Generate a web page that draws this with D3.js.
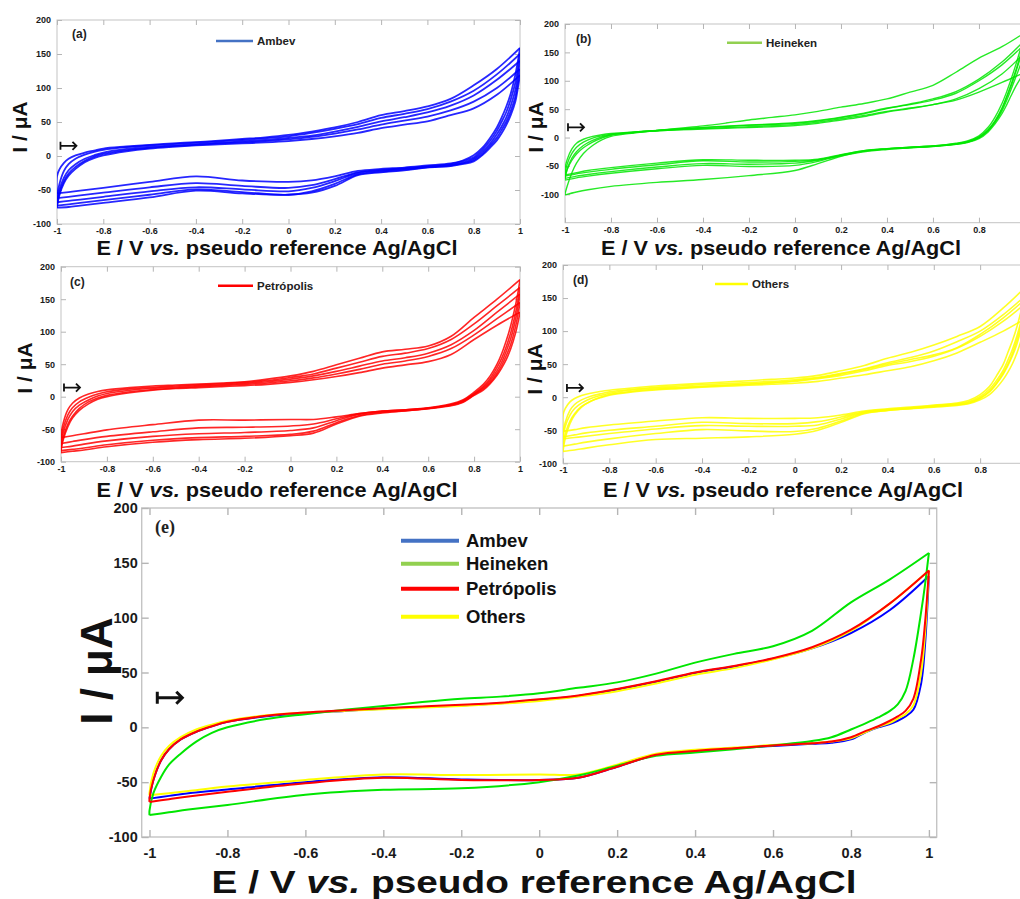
<!DOCTYPE html>
<html>
<head>
<meta charset="utf-8">
<script src="https://cdn.jsdelivr.net/npm/d3@7"></script>
<style>
  body { margin: 0; background: #fff; }
  svg { display: block; }
  text { font-weight: bold; }
</style>
</head>
<body>
<svg id="chart" width="1020" height="899"></svg>
<script>
// potential grid of the forward (anodic) and reverse (cathodic) sweeps, V
const fwdE = [-1, -0.99, -0.97, -0.95, -0.92, -0.88, -0.84, -0.8, -0.7, -0.6, -0.5, -0.4, -0.3, -0.2, -0.1, 0, 0.1, 0.2, 0.3, 0.4, 0.5, 0.6, 0.7, 0.8, 0.9, 1];
const revE = [1, 0.99, 0.98, 0.96, 0.94, 0.92, 0.9, 0.87, 0.84, 0.8, 0.75, 0.7, 0.6, 0.5, 0.4, 0.3, 0.2, 0.1, 0, -0.2, -0.4, -0.6, -0.8, -0.9, -0.95, -1];

const xTicks = [-1, -0.8, -0.6, -0.4, -0.2, 0, 0.2, 0.4, 0.6, 0.8, 1];
const yTicks = [-100, -50, 0, 50, 100, 150, 200];
const brands = ["Ambev", "Heineken", "Petrópolis", "Others"];

// mean voltammograms (panel e), current in µA
const meanAmbevFwd = [-65, -48, -30, -20, -11, -4, 1, 5, 10, 13, 15, 17, 18.5, 20, 22, 25, 28.5, 34.5, 41.5, 49.5, 55.5, 62.5, 72, 86, 107, 138];
const meanAmbevRev = [138, 75, 40, 16, 10, 6, 3, 0, -4, -11, -14, -15, -17, -19, -21.5, -25, -36, -46, -48, -47.5, -45.5, -50, -56.6, -60, -62.5, -65];
const meanHeinekenFwd = [-76, -60, -45, -34, -24, -13, -5, 0, 7.5, 12, 16, 19.5, 23, 26, 28, 31, 36, 41, 49, 59, 67, 74, 88, 114, 135, 159];
const meanHeinekenRev = [159, 130, 105, 62, 33, 21, 15, 9, 4, -2, -9, -12.5, -16.5, -20, -23, -26, -35, -44, -50, -55.6, -57, -61.5, -70.8, -75, -77.5, -80];
const meanPetropolisFwd = [-65, -48, -30, -20, -11, -4, 1, 5, 10.5, 13.5, 15.5, 17.5, 19, 20.5, 22.5, 25.5, 29, 35, 42, 50, 56, 63, 73, 89, 113, 143];
const meanPetropolisRev = [143, 95, 62, 26, 15, 10, 6, 1, -3, -9, -13, -14.5, -16.5, -19, -21.5, -25, -36, -46, -48, -48, -46, -51, -58.7, -63, -65.5, -68];
const meanOthersFwd = [-60, -42, -26, -17, -9, -2, 2.5, 6, 11, 13.5, 15, 16.5, 18, 19.5, 21.5, 24, 28, 33, 40, 48, 54, 62, 72, 88, 113, 143];
const meanOthersRev = [143, 85, 50, 20, 12, 8, 4, 0.5, -4, -10, -13, -14.5, -16, -18.5, -20.5, -24, -34, -43, -43, -43.5, -43, -48, -54, -58, -60, -62];

// repeated cycles of each brand (panels a-d)
const ambevFwd = [
  [-30, -20, -10, -4, 1, 5, 8, 11, 14, 16.5, 18.5, 20.5, 22.5, 25, 27.5, 31, 36, 42, 50, 60, 66, 73, 84, 104, 128, 159],
  [-62, -42, -22, -12, -4, 2, 6, 9, 13, 15.5, 17.5, 19.5, 21.5, 23.5, 26, 29, 34, 40, 47, 56, 62, 69, 80, 96, 120, 150],
  [-68, -50, -32, -21, -12, -4, 1, 5, 10.5, 13.5, 15.5, 17.5, 19.5, 21.5, 23.5, 26.5, 30, 36, 43, 51, 57, 64, 74, 89, 112, 140],
  [-72, -55, -37, -26, -16, -7, -1, 3, 8.5, 12, 14.5, 16.5, 18.5, 20, 22, 24.5, 28, 33, 39, 46, 52, 58, 67, 80, 100, 128],
  [-76, -58, -40, -29, -19, -9, -3, 1, 7, 11, 13.5, 15.5, 17, 18.5, 20, 22, 25, 29, 34, 41, 46, 51, 60, 70, 90, 119]
];
const ambevRev = [
  [159, 138, 120, 92, 72, 56, 42, 26, 13, 1, -7, -11, -14, -17, -19, -22, -30, -36, -38, -36, -30, -38, -47, -51, -53, -55],
  [150, 127, 108, 83, 64, 50, 37, 22, 10, -2, -8, -12, -15, -18, -20.5, -24, -34, -43, -47, -44, -40, -46, -54, -58, -60, -62],
  [140, 117, 97, 74, 56, 43, 32, 18, 7, -4, -10, -13, -16, -19, -21.5, -25, -37, -47, -52, -49, -46, -52, -60, -64, -66, -68],
  [128, 106, 87, 66, 50, 38, 27, 15, 4, -6, -11, -14, -16.5, -20, -23, -27, -41, -52, -57, -53, -49, -57, -65, -69, -71, -73],
  [119, 98, 80, 60, 45, 33, 23, 12, 2, -8, -12, -15, -17, -21, -24, -28, -44, -54, -57, -55, -51, -61, -69, -73, -75, -76]
];
const heinekenFwd = [
  [-100, -85, -62, -45, -28, -14, -4, 2, 8, 12.5, 16.5, 20.5, 25.5, 31, 35.5, 40, 46, 53.5, 60, 68, 80, 92, 115, 140, 160, 185],
  [-72, -56, -40, -29, -18, -8, -1, 4, 9, 12.5, 15.5, 18, 20, 22, 23.5, 25, 29, 35, 42, 51, 59, 68, 81, 103, 133, 172],
  [-55, -38, -20, -10, -3, 2, 5, 7, 10, 12, 13.5, 15, 16.5, 17.5, 19, 21, 25, 31, 37, 45, 51, 58, 68, 86, 112, 150],
  [-65, -46, -28, -17, -8, -1, 3, 6, 9.5, 12, 14, 16, 17.5, 19, 21, 23, 27, 33, 39, 46, 52, 58, 66, 80, 97, 115],
  [-72, -55, -36, -25, -14, -5, 1, 5, 9, 12.5, 15, 17.5, 19.5, 21.5, 23.5, 26, 30, 36, 43, 52, 58, 66, 78, 100, 128, 165]
];
const heinekenRev = [
  [185, 170, 155, 128, 103, 80, 60, 36, 18, 3, -6, -10, -15, -17, -20, -24, -33, -46, -58, -67, -74, -79, -86, -92, -96, -101],
  [172, 158, 145, 118, 94, 72, 52, 30, 14, 1, -7, -11, -15.5, -18, -21, -25, -32, -40, -45, -47, -46, -52, -60, -65, -68, -72],
  [150, 140, 128, 106, 85, 65, 47, 27, 12, 0, -8, -12, -15, -17.5, -20, -24, -31, -39, -42, -43, -41, -48, -56, -61, -64, -68],
  [115, 110, 104, 90, 74, 57, 42, 24, 10, -2, -9, -12, -16, -18, -20, -23, -30, -38, -40, -40, -39, -45, -53, -58, -62, -66],
  [165, 152, 140, 115, 91, 70, 50, 28, 13, 0, -8, -11, -15, -17, -19.5, -23, -31, -42, -49, -51, -49, -55, -63, -68, -71, -75]
];
const petropolisFwd = [
  [-60, -40, -20, -10, -2, 4, 8, 10.5, 14, 16.5, 18, 19.5, 21, 23, 27, 32, 39, 49, 59, 69, 73, 78, 93, 122, 150, 180],
  [-68, -48, -28, -17, -8, -1, 4, 7.5, 12, 14.5, 16.5, 18.5, 20, 22, 25, 29.5, 35, 44, 53, 62, 67, 74, 88, 112, 140, 168],
  [-74, -55, -35, -23, -13, -5, 1, 5, 10, 13, 15, 17, 18.5, 20.5, 23, 27, 32, 39, 47, 55, 60, 67, 80, 102, 130, 158],
  [-80, -62, -42, -30, -18, -8, -2, 2, 7.5, 11, 13.5, 15.5, 17, 19, 21, 24.5, 29, 35, 42, 50, 55, 62, 74, 95, 120, 145],
  [-84, -66, -46, -33, -21, -11, -4, 0, 6, 10, 12.5, 14, 15.5, 17, 19, 22, 26, 31, 37, 44, 49, 54, 65, 88, 110, 130]
];
const petropolisRev = [
  [180, 158, 140, 110, 86, 66, 50, 32, 19, 7, -5, -11, -17, -20, -22, -26, -31, -35, -35, -36, -36, -43, -51, -57, -60, -63],
  [168, 146, 128, 99, 77, 59, 45, 28, 16, 5, -6, -12, -17.5, -20, -22, -26, -34, -42, -45, -47, -48, -54, -61, -66, -69, -72],
  [158, 136, 118, 90, 70, 53, 40, 25, 14, 4, -7, -12.5, -18, -21, -23, -27, -37, -48, -52, -55, -57, -61, -68, -73, -76, -78],
  [145, 124, 107, 81, 63, 48, 36, 22, 12, 3, -8, -13, -18, -21.5, -24, -29, -40, -53, -58, -61, -63, -67, -74, -79, -81, -83],
  [130, 112, 97, 74, 57, 44, 33, 20, 10, 2, -9, -14, -18.5, -22, -25, -30, -42, -56, -60, -64, -66, -70, -77, -82, -84, -86]
];
const othersFwd = [
  [-27, -17, -7, -2, 2.5, 6, 8.5, 10.5, 14, 17, 19, 21, 23, 25, 27, 29, 33, 40, 48, 59, 68, 79, 92, 107, 135, 168],
  [-55, -38, -20, -11, -4, 1.5, 5, 8, 12, 15, 17, 19, 20.5, 22, 24, 26.5, 30, 36, 43, 52, 60, 70, 84, 100, 125, 155],
  [-62, -44, -27, -17, -9, -2, 2.5, 6, 11, 13.5, 15, 16.5, 18, 19.5, 21.5, 24, 28, 33, 40, 48, 54, 62, 74, 92, 115, 143],
  [-72, -55, -36, -25, -14, -6, -1, 3, 8, 11, 13, 15, 16.5, 18, 19.5, 21, 24, 29, 34, 40, 46, 55, 67, 83, 100, 120],
  [-82, -62, -40, -27, -15, -6, 0, 4, 9, 12, 14, 16, 18, 20, 22, 25, 29, 35, 42, 50, 57, 64, 75, 95, 120, 150]
];
const othersRev = [
  [168, 150, 135, 108, 86, 68, 50, 32, 16, 4, -5, -9, -12, -15, -17.5, -21, -27, -31, -32, -32, -31, -36, -42, -46, -49, -52],
  [155, 136, 120, 94, 73, 56, 41, 25, 12, 1, -7, -10, -13, -16, -18.5, -22, -30, -37, -40, -40, -38, -44, -50, -54, -57, -60],
  [143, 124, 108, 82, 63, 48, 35, 20, 8, -2, -9, -11.5, -14, -17, -19.5, -23, -33, -42, -44, -44, -43, -48, -55, -59, -61, -63],
  [120, 104, 90, 68, 51, 38, 27, 14, 4, -4, -10, -12.5, -15, -17.5, -20, -24, -36, -47, -52, -51, -49, -55, -63, -68, -71, -74],
  [150, 131, 114, 88, 67, 50, 37, 21, 9, -1, -8, -11, -14, -17, -20, -25, -38, -50, -56, -60, -62, -64, -72, -77, -80, -82]
];

const traceColors = ["#0000ff", "#00e600", "#ff0000", "#ffff00"];
const legendColors = ["#4472c4", "#92d050", "#ff0000", "#ffff00"];

// where the starting-potential arrow sits in each panel (E, I)
const arrowE = [-0.985, -0.987, -0.987, -0.983, -0.98];
const arrowI = [15, 18, 14, 14, 27];

const svg = d3.select("#chart");
const SANS = "Liberation Sans, Arial, sans-serif";

const panels = [
  { id: "a", fwd: ambevFwd, rev: ambevRev, k: 0, width: 1.8, xDom: [-1, 1], xRange: [57, 520], yDom: [-100, 200], yRange: [224, 20],
    title: [277, 254.5, 361], yTitle: [27, 127], legend: [216, 253, 41], tag: [72, 38] },
  { id: "b", fwd: heinekenFwd, rev: heinekenRev, k: 1, width: 1.4, xDom: [-1, 1.035], xRange: [565, 1033], yDom: [-150, 200], yRange: [222.7, 24],
    title: [781, 254.5, 360], yTitle: [543, 127], legend: [727, 762, 42.7], tag: [576, 43] },
  { id: "c", fwd: petropolisFwd, rev: petropolisRev, k: 2, width: 1.6, xDom: [-1, 1], xRange: [61, 520], yDom: [-100, 200], yRange: [461.7, 266.7],
    title: [277, 496.5, 361], yTitle: [32, 368], legend: [218, 253, 285.7], tag: [70, 286] },
  { id: "d", fwd: othersFwd, rev: othersRev, k: 3, width: 1.6, xDom: [-1, 1.035], xRange: [563, 1034.6], yDom: [-100, 200], yRange: [463.3, 265],
    title: [783, 496.5, 360], yTitle: [542, 369], legend: [715, 748, 284], tag: [573, 284] }
];

function loop(x, y, f, r) {
  const line = d3.line().x(d => x(d[0])).y(d => y(d[1])).curve(d3.curveCatmullRom.alpha(0.5));
  const start = [[-1, r[r.length - 1]]].concat(fwdE.map((e, j) => [e, f[j]]));
  const back = revE.map((e, j) => [e, r[j]]);
  return [line(start), line(back)];
}

function drawArrow(g, px, py, w, h, sw) {
  g.append("path")
    .attr("d", `M${px},${py - h}V${py + h}M${px},${py}H${px + w}M${px + w - h},${py - h}L${px + w},${py}L${px + w - h},${py + h}`)
    .attr("fill", "none").attr("stroke", "#111").attr("stroke-width", sw);
}

function frame(g, x, y, opt) {
  const [x0, x1] = x.range(), [y0, y1] = y.range();
  const label = d => (x(d) > 1012 ? "" : String(d));
  g.append("rect").attr("x", x0).attr("y", y1).attr("width", x1 - x0).attr("height", y0 - y1)
    .attr("fill", "none").attr("stroke", "#c4c4c4").attr("stroke-width", opt.box);
  const style = sel => {
    sel.select(".domain").remove();
    sel.selectAll(".tick line").attr("stroke", "#b5b5b5").attr("stroke-width", opt.box);
    sel.attr("font-family", SANS).attr("font-size", opt.font).attr("font-weight", "bold");
    sel.selectAll(".tick text").attr("fill", "#1a1a1a");
  };
  g.append("g").attr("transform", `translate(0,${y0})`)
    .call(d3.axisBottom(x).tickValues(xTicks).tickSize(-opt.tick).tickPadding(opt.padX).tickFormat(label)).call(style);
  g.append("g").attr("transform", `translate(0,${y1})`)
    .call(d3.axisTop(x).tickValues(xTicks).tickSize(-opt.tick).tickFormat("")).call(style);
  g.append("g").attr("transform", `translate(${x0},0)`)
    .call(d3.axisLeft(y).tickValues(yTicks).tickSize(-opt.tick).tickPadding(opt.padY).tickFormat(d => String(d))).call(style);
  g.append("g").attr("transform", `translate(${x1},0)`)
    .call(d3.axisRight(y).tickValues(yTicks).tickSize(-opt.tick).tickFormat("")).call(style);
}

function xTitle(g, cx, base, len, size) {
  const t = g.append("text").attr("x", cx).attr("y", base).attr("text-anchor", "middle")
    .style("font-family", SANS).attr("font-size", size).attr("fill", "#111")
    .attr("textLength", len).attr("lengthAdjust", "spacingAndGlyphs");
  t.append("tspan").text("E / V ");
  t.append("tspan").attr("font-style", "italic").text("vs.");
  t.append("tspan").text(" pseudo reference Ag/AgCl");
}

function yTitle(g, bx, cy, size) {
  g.append("text").attr("transform", `translate(${bx},${cy}) rotate(-90)`)
    .style("font-family", SANS).attr("text-anchor", "middle").attr("font-size", size).attr("fill", "#111").text("I / μA");
}

panels.forEach((p, pi) => {
  const x = d3.scaleLinear().domain(p.xDom).range(p.xRange);
  const y = d3.scaleLinear().domain(p.yDom).range(p.yRange);
  const g = svg.append("g");
  const clip = "clip-" + p.id;
  svg.append("clipPath").attr("id", clip).append("rect")
    .attr("x", p.xRange[0]).attr("y", p.yRange[1])
    .attr("width", p.xRange[1] - p.xRange[0]).attr("height", p.yRange[0] - p.yRange[1]);

  frame(g, x, y, { tick: 5, padX: 3.5, padY: 6, font: 9, box: 1 });

  const curves = g.append("g").attr("clip-path", `url(#${clip})`);
  p.fwd.forEach((f, i) => {
    loop(x, y, f, p.rev[i]).forEach(d => {
      curves.append("path").attr("d", d).attr("fill", "none")
        .attr("stroke", traceColors[p.k]).attr("stroke-width", p.width)
        .attr("stroke-opacity", 0.85);
    });
  });

  // legend
  g.append("line").attr("x1", p.legend[0]).attr("x2", p.legend[1]).attr("y1", p.legend[2]).attr("y2", p.legend[2])
    .attr("stroke", legendColors[p.k]).attr("stroke-width", 2.6);
  g.append("text").attr("x", p.legend[1] + 4).attr("y", p.legend[2] + 4).style("font-family", SANS)
    .attr("font-size", 11.5).attr("fill", "#222").text(brands[p.k]);
  g.append("text").attr("x", p.tag[0]).attr("y", p.tag[1]).style("font-family", SANS)
    .attr("font-size", 12).attr("fill", "#222").text(`(${p.id})`);

  drawArrow(g, x(arrowE[pi]), y(arrowI[pi]), 16, 4, 1.8);
  xTitle(g, p.title[0], p.title[1], p.title[2], 20.5);
  yTitle(g, p.yTitle[0], p.yTitle[1], 21);
});

// panel (e): averaged voltammograms of the four groups
{
  const x = d3.scaleLinear().domain([-1.02, 1.02]).range([141.7, 936.7]);
  const y = d3.scaleLinear().domain([-100, 200]).range([837, 508]);
  const g = svg.append("g");
  frame(g, x, y, { tick: 7, padX: 11, padY: 4, font: 14.5, box: 1.4 });

  const means = [
    [meanAmbevFwd, meanAmbevRev, 0],
    [meanOthersFwd, meanOthersRev, 3],
    [meanHeinekenFwd, meanHeinekenRev, 1],
    [meanPetropolisFwd, meanPetropolisRev, 2]
  ];
  means.forEach(([f, r, k]) => {
    loop(x, y, f, r).forEach(d => {
      g.append("path").attr("d", d).attr("fill", "none")
        .attr("stroke", traceColors[k]).attr("stroke-width", 2);
    });
  });

  const legendY = [540.7, 563.7, 588.7, 616.7];
  brands.forEach((b, k) => {
    g.append("line").attr("x1", 401).attr("x2", 459).attr("y1", legendY[k]).attr("y2", legendY[k])
      .attr("stroke", legendColors[k]).attr("stroke-width", 4);
    g.append("text").attr("x", 466).attr("y", legendY[k] + 6.5).style("font-family", SANS)
      .attr("font-size", 18.5).attr("fill", "#111").text(b);
  });

  g.append("text").attr("x", 155).attr("y", 533).attr("font-size", 18)
    .style("font-family", "Liberation Serif, Times New Roman, serif").attr("fill", "#222").text("(e)");

  drawArrow(g, x(arrowE[4]), y(arrowI[4]), 25, 6, 3);
  xTitle(g, 534, 893, 645, 31);
  yTitle(g, 112, 671, 44);
}
</script>
</body>
</html>
